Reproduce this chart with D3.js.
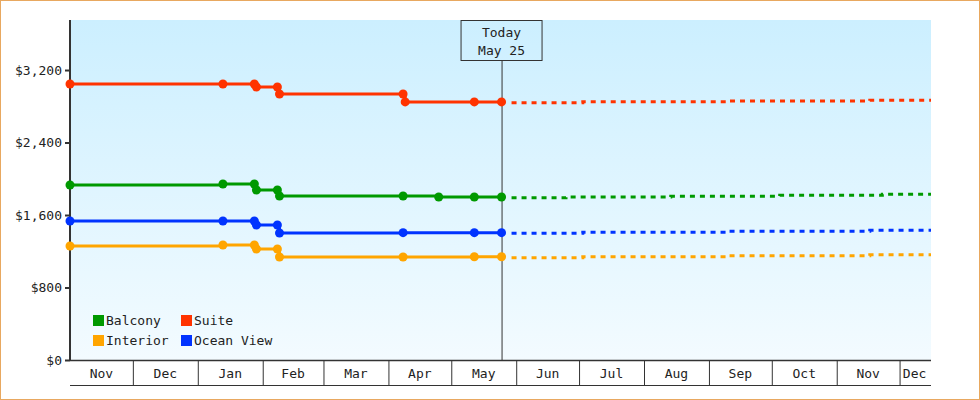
<!DOCTYPE html><html><head><meta charset="utf-8">
<script src="https://cdn.jsdelivr.net/npm/d3@7"></script>
<style>body{margin:0;background:#fff}text{font-family:"DejaVu Sans Mono",monospace;font-size:13px;fill:#222}</style></head><body>
<svg id="c" width="980" height="400"></svg>
<script>
const seriesNames=["Balcony","Suite","Interior","Ocean View"];
const colors=["#009900","#ff3300","#ffa500","#0033ff"];
const legendOrder=[0,1,2,3];
const yTicks=[0,800,1600,2400,3200];
const monthLabels=["Nov","Dec","Jan","Feb","Mar","Apr","May","Jun","Jul","Aug","Sep","Oct","Nov","Dec"];
const today="2024-05-25";
// historical [date,value]
const balconyHist=[["2023-11-01",1931],["2024-01-13",1942],["2024-01-28",1942],["2024-01-29",1876],["2024-02-08",1876],["2024-02-09",1810],["2024-04-08",1810],["2024-04-25",1799],["2024-05-12",1799],["2024-05-25",1799]];
const suiteHist=[["2023-11-01",3046],["2024-01-13",3046],["2024-01-28",3046],["2024-01-29",3013],["2024-02-08",3013],["2024-02-09",2936],["2024-04-08",2936],["2024-04-09",2848],["2024-05-12",2848],["2024-05-25",2848]];
const interiorHist=[["2023-11-01",1258],["2024-01-13",1269],["2024-01-28",1269],["2024-01-29",1225],["2024-02-08",1225],["2024-02-09",1137],["2024-04-08",1137],["2024-05-12",1140],["2024-05-25",1140]];
const oceanHist=[["2023-11-01",1534],["2024-01-13",1534],["2024-01-28",1534],["2024-01-29",1490],["2024-02-08",1490],["2024-02-09",1401],["2024-04-08",1405],["2024-05-12",1405],["2024-05-25",1405]];
// forecast
const balconyFc=[["2024-05-25",1790],["2024-06-20",1800],["2024-08-09",1808],["2024-09-30",1817],["2024-11-18",1828],["2024-12-16",1828]];
const suiteFc=[["2024-05-25",2840],["2024-06-28",2849],["2024-09-06",2857],["2024-11-12",2866],["2024-12-16",2866]];
const interiorFc=[["2024-05-25",1129],["2024-06-28",1140],["2024-09-06",1151],["2024-11-12",1162],["2024-12-16",1162]];
const oceanFc=[["2024-05-25",1398],["2024-06-28",1409],["2024-09-06",1420],["2024-11-12",1431],["2024-12-16",1431]];
const hist=[balconyHist,suiteHist,interiorHist,oceanHist];
const fc=[balconyFc,suiteFc,interiorFc,oceanFc];

const P=d3.timeParse("%Y-%m-%d");
const svg=d3.select("#c");
const L=70,R=931,T=20,B=360;
const x=d3.scaleTime().domain([P("2023-11-01"),P("2024-12-16")]).range([L,R]);
const y=d3.scaleLinear().domain([0,3752]).range([B,T]);
svg.append("rect").attr("x",0.5).attr("y",0.5).attr("width",979).attr("height",399).attr("fill","#fff").attr("stroke","#e8a860");
const g=svg.append("defs").append("linearGradient").attr("id","bg").attr("x1",0).attr("y1",0).attr("x2",0).attr("y2",1);
g.append("stop").attr("offset",0).attr("stop-color","#ccefff");
g.append("stop").attr("offset",1).attr("stop-color","#f3fbff");
svg.append("rect").attr("x",L).attr("y",T).attr("width",R-L).attr("height",B-T).attr("fill","url(#bg)");
// y axis
const ya=svg.append("g").attr("transform",`translate(${L},0)`).call(d3.axisLeft(y).tickValues(yTicks).tickSize(5).tickFormat(d=>"$"+d3.format(",")(d)));
ya.select(".domain").remove();
ya.selectAll("line").attr("stroke","#333").attr("stroke-width",2);
ya.selectAll("text").style("font-size","13px").attr("fill","#333");
svg.append("line").attr("x1",L).attr("x2",L).attr("y1",T).attr("y2",B).attr("stroke","#333").attr("stroke-width",2);
// x axis bands
const months=d3.timeMonth.range(P("2023-11-01"),P("2024-12-17"));
const bounds=months.map(m=>x(m)).concat([R]);
svg.append("line").attr("x1",L).attr("x2",R).attr("y1",B+0.5).attr("y2",B+0.5).attr("stroke","#333").attr("stroke-width",1.5);
svg.append("line").attr("x1",L).attr("x2",R).attr("y1",385.5).attr("y2",385.5).attr("stroke","#333");
months.forEach((m,i)=>{
  if(i>0)svg.append("line").attr("x1",bounds[i]+0.5).attr("x2",bounds[i]+0.5).attr("y1",B).attr("y2",385).attr("stroke","#333");
  const cx=i===months.length-1?bounds[i]+15:(bounds[i]+bounds[i+1])/2;
  svg.append("text").attr("x",cx).attr("y",378).attr("text-anchor","middle").text(monthLabels[i]);
});
// today
const tx=x(P(today));
svg.append("line").attr("x1",tx+0.5).attr("x2",tx+0.5).attr("y1",60).attr("y2",B).attr("stroke","#333");
svg.append("rect").attr("x",tx-40.5).attr("y",20.5).attr("width",81).attr("height",40).attr("fill","none").attr("stroke","#333");
svg.append("text").attr("x",tx).attr("y",37).attr("text-anchor","middle").text("Today");
svg.append("text").attr("x",tx).attr("y",55).attr("text-anchor","middle").text("May 25");
// lines
const line=d3.line().x(d=>x(P(d[0]))).y(d=>y(d[1])).curve(d3.curveStepAfter);
hist.forEach((h,i)=>{
  svg.append("path").attr("d",line(h)).attr("fill","none").attr("stroke",colors[i]).attr("stroke-width",3);
  svg.selectAll(null).data(h).enter().append("circle").attr("cx",d=>x(P(d[0]))).attr("cy",d=>y(d[1])).attr("r",4.5).attr("fill",colors[i]);
});
fc.forEach((f,i)=>{
  svg.append("path").attr("d",line(f)).attr("fill","none").attr("stroke",colors[i]).attr("stroke-width",3).attr("stroke-dasharray","5,5").attr("transform","translate(10,0)").attr("clip-path","url(#clp)");
});
svg.select("defs").append("clipPath").attr("id","clp").append("rect").attr("x",L).attr("y",T).attr("width",R-L-10).attr("height",B-T);
// legend
legendOrder.forEach((s,k)=>{
  const lx=93+(k%2)*88, ly=315+Math.floor(k/2)*20;
  svg.append("rect").attr("x",lx).attr("y",ly).attr("width",11).attr("height",11).attr("fill",colors[s]);
  svg.append("text").attr("x",lx+13).attr("y",ly+10).text(seriesNames[s]);
});
</script></body></html>
